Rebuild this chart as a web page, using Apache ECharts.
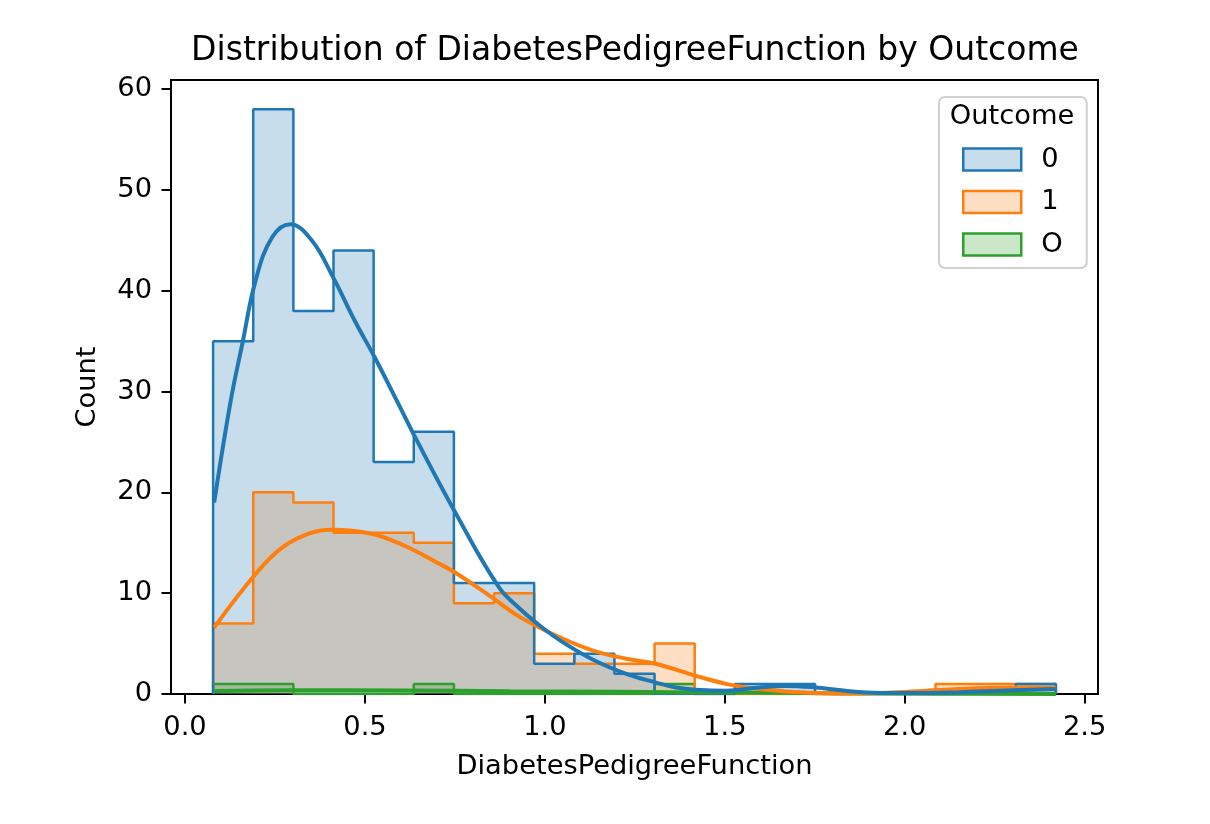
<!DOCTYPE html>
<html>
<head>
<meta charset="utf-8">
<script src="https://cdn.jsdelivr.net/npm/echarts@6/dist/echarts.min.js"></script>
<style>
html,body{margin:0;padding:0;background:#fff}
#chartmain{width:1210px;height:824px}
</style>
</head>
<body>
<div id="chartmain"></div>
<script>
// histogram bins (21 equal bins over the data range)
var binStart = 0.078, binEnd = 2.42, binCount = 21;
var outcomes = ['0', '1', 'O'];
var colors = ['#1f77b4', '#ff7f0e', '#2ca02c'];
var fills = ['rgba(31,119,180,0.25)', 'rgba(255,127,14,0.25)', 'rgba(44,160,44,0.25)'];

// counts per bin
var counts0 = [35, 58, 38, 44, 23, 26, 11, 11, 3, 4, 2, 0, 0, 1, 1, 0, 0, 0, 0, 0, 1];
var counts1 = [7, 20, 19, 16, 16, 15, 9, 10, 4, 3, 3, 5, 0, 0, 0, 0, 0, 0, 1, 1, 1];
var countsO = [1, 1, 0, 0, 0, 1, 0, 0, 0, 0, 0, 1, 0, 0, 0, 0, 0, 0, 0, 0, 0];

// kde curves
var kde0 = [[0.081,19.0],[0.127,29.1],[0.159,34.7],[0.196,41.0],[0.242,45.3],[0.292,46.6],[0.352,45.0],
  [0.412,41.3],[0.472,37.0],[0.527,33.4],[0.587,29.2],[0.642,25.3],[0.748,18.2],[0.872,10.6],[0.932,8.4],
  [0.978,7.0],[1.043,5.3],[1.134,3.4],[1.226,2.0],[1.307,1.15],[1.365,0.65],[1.42,0.43],[1.503,0.33],
  [1.596,0.65],[1.669,0.8],[1.752,0.65],[1.816,0.4],[1.872,0.2],[1.95,0.1],[2.05,0.1],[2.15,0.18],
  [2.25,0.3],[2.35,0.42],[2.42,0.5]];
var kde1 = [[0.081,6.6],[0.196,11.9],[0.269,14.5],[0.352,16.0],[0.407,16.3],[0.518,15.9],[0.610,14.7],
  [0.702,13.0],[0.748,12.1],[0.840,9.9],[0.932,7.6],[1.043,5.6],[1.134,4.3],[1.226,3.5],[1.307,3.0],
  [1.42,1.8],[1.503,1.0],[1.558,0.65],[1.596,0.5],[1.669,0.25],[1.761,0.1],[1.85,0.05],[1.95,0.12],
  [2.05,0.3],[2.15,0.5],[2.25,0.62],[2.35,0.65],[2.42,0.6]];
var kdeO = [[0.081,0.3],[0.3,0.38],[0.6,0.35],[0.9,0.28],[1.2,0.22],[1.5,0.15],[1.8,0.08],[2.1,0.03],[2.42,0.01]];

var xTicks = [0, 0.5, 1.0, 1.5, 2.0, 2.5];
var yTicks = [0, 10, 20, 30, 40, 50, 60];

function stepData(counts) {
  var w = (binEnd - binStart) / binCount;
  var pts = [[binStart, 0]];
  counts.forEach(function (c, i) {
    pts.push([binStart + i * w, c], [binStart + (i + 1) * w, c]);
  });
  pts.push([binEnd, 0]);
  return pts;
}

function stepSeries(i, counts) {
  return {
    name: outcomes[i], type: 'line', data: stepData(counts),
    symbol: 'none', silent: true, z: 2,
    lineStyle: {color: colors[i], width: 2.5},
    itemStyle: {color: colors[i]},
    areaStyle: {color: fills[i], opacity: 1}
  };
}

function kdeSeries(i, pts) {
  return {
    name: outcomes[i] + ' kde', type: 'line', data: pts,
    symbol: 'none', silent: true, smooth: 0.4, z: 3,
    lineStyle: {color: colors[i], width: 4}
  };
}

var font = 'DejaVu Sans';
var fs = 27.3;
var option = {
  animation: false,
  backgroundColor: '#fff',
  grid: {left: 171, right: 112, top: 80, bottom: 130, show: true, borderColor: '#000', borderWidth: 2},
  xAxis: {
    type: 'value', min: -0.039, max: 2.537,
    name: 'DiabetesPedigreeFunction', nameLocation: 'middle', nameGap: 59,
    nameTextStyle: {fontFamily: font, fontSize: fs, color: '#000'},
    axisLine: {onZero: false, lineStyle: {color: '#000', width: 2}},
    axisTick: {show: true, length: 9.5, lineStyle: {color: '#000', width: 2}, customValues: xTicks},
    axisLabel: {customValues: xTicks, margin: 20, fontFamily: font, fontSize: fs, color: '#000',
      formatter: function (v) { return v.toFixed(1); }},
    splitLine: {show: false}
  },
  yAxis: {
    type: 'value', min: 0, max: 60.9,
    name: 'Count', nameLocation: 'middle', nameGap: 70,
    nameTextStyle: {fontFamily: font, fontSize: fs, color: '#000'},
    axisLine: {show: true, onZero: false, lineStyle: {color: '#000', width: 2}},
    axisTick: {show: true, length: 9.5, lineStyle: {color: '#000', width: 2}, customValues: yTicks},
    axisLabel: {customValues: yTicks, margin: 19, fontFamily: font, fontSize: fs, color: '#000'},
    splitLine: {show: false}
  },
  legend: {
    left: 939, top: 97, orient: 'vertical', selectedMode: false,
    padding: [49, 24, 10, 23],
    backgroundColor: 'rgba(255,255,255,0.8)', borderColor: '#d0d0d0', borderWidth: 2, borderRadius: 6,
    itemWidth: 58, itemHeight: 22, itemGap: 15.5,
    textStyle: {fontFamily: font, fontSize: fs, color: '#000', lineHeight: 22, padding: [0, 0, 0, 15]},
    data: outcomes.map(function (name, i) {
      return {name: name, icon: 'rect',
        itemStyle: {color: fills[i], borderColor: colors[i], borderWidth: 2.5}};
    })
  },
  graphic: [
    {type: 'text', z: 100, silent: true,
      style: {text: 'Distribution of DiabetesPedigreeFunction by Outcome', x: 635, y: 51,
        fontFamily: font, fontSize: 33, fill: '#000', textAlign: 'center', textVerticalAlign: 'middle'}},
    {type: 'text', z: 100, silent: true,
      style: {text: 'Outcome', x: 1012, y: 117, fontFamily: font, fontSize: fs, fill: '#000',
        textAlign: 'center', textVerticalAlign: 'middle'}}
  ],
  series: [
    stepSeries(2, countsO), stepSeries(1, counts1), stepSeries(0, counts0),
    kdeSeries(2, kdeO), kdeSeries(1, kde1), kdeSeries(0, kde0)
  ]
};

var myChart = echarts.init(document.getElementById('chartmain'));
myChart.setOption(option);
</script>
</body>
</html>
